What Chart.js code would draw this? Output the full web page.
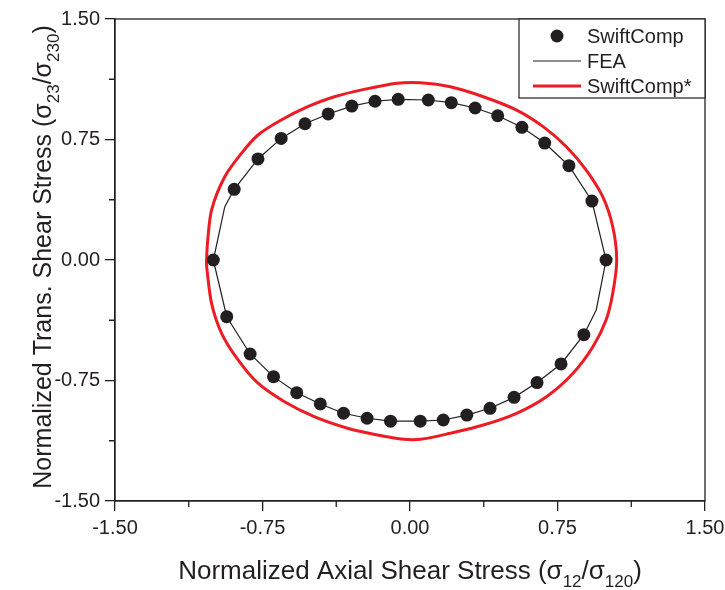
<!DOCTYPE html>
<html>
<head>
<meta charset="utf-8">
<script src="https://cdn.jsdelivr.net/npm/chart.js@4.4.1/dist/chart.umd.min.js"></script>
<style>
html,body{margin:0;padding:0;background:#fff;}
#wrap{width:725px;height:590px;}
</style>
</head>
<body>
<div id="wrap"><canvas id="myChart" width="725" height="590"></canvas></div>
<script>
// SwiftComp (points)
const swiftX = [-1.000,-0.894,-0.773,-0.655,-0.534,-0.416,-0.296,-0.178,-0.060,0.093,0.210,0.331,0.446,0.569,0.685,0.808,0.925,0.997,
                0.884,0.768,0.646,0.529,0.407,0.289,0.169,0.052,-0.099,-0.218,-0.338,-0.456,-0.576,-0.694,-0.813,-0.932];
const swiftY = [0.000,0.440,0.629,0.757,0.848,0.909,0.958,0.988,1.000,0.996,0.979,0.946,0.898,0.826,0.728,0.587,0.367,0.000,
                -0.465,-0.647,-0.763,-0.855,-0.923,-0.965,-0.996,-1.003,-1.003,-0.985,-0.954,-0.896,-0.826,-0.726,-0.585,-0.353];

// FEA (thin line)
const feaX = [-1.000,-0.942,-0.894,-0.773,-0.655,-0.534,-0.416,-0.296,-0.178,-0.060,0.093,0.210,0.331,0.446,0.569,0.685,0.808,0.925,0.997,0.947,
              0.884,0.768,0.646,0.529,0.407,0.289,0.169,0.052,-0.099,-0.218,-0.338,-0.456,-0.576,-0.694,-0.813,-0.932,-1.000];
const feaY = [0.000,0.330,0.440,0.629,0.757,0.848,0.909,0.958,0.988,1.000,0.996,0.979,0.946,0.898,0.826,0.728,0.587,0.367,0.000,-0.311,
              -0.465,-0.647,-0.763,-0.855,-0.923,-0.965,-0.996,-1.003,-1.003,-0.985,-0.954,-0.896,-0.826,-0.726,-0.585,-0.353,0.000];

// SwiftComp* (red line)
const starX = [-1.035,-1.030,-1.009,-0.942,-0.857,-0.773,-0.655,-0.520,-0.385,-0.234,-0.065,0.053,0.205,0.373,0.542,0.677,0.795,0.896,0.980,1.031,1.051,
               1.031,0.997,0.930,0.829,0.694,0.542,0.373,0.205,0.053,-0.031,-0.166,-0.318,-0.487,-0.638,-0.773,-0.874,-0.958,-1.009,-1.032,-1.035];
const starY = [-0.020,0.100,0.311,0.518,0.664,0.778,0.871,0.954,1.016,1.062,1.100,1.103,1.078,1.016,0.933,0.830,0.705,0.560,0.394,0.207,0.000,
               -0.207,-0.373,-0.540,-0.705,-0.851,-0.954,-1.027,-1.078,-1.116,-1.116,-1.089,-1.047,-0.975,-0.882,-0.767,-0.622,-0.456,-0.270,-0.062,-0.020];

const tickValues = [-1.5,-0.75,0,0.75,1.5];
const minorTicks = [-1.125,-0.375,0.375,1.125];
const seriesNames = ['SwiftComp','FEA','SwiftComp*'];

const ink = '#231f20';
const red = '#ed1c24';
const fam = "'Liberation Sans', Arial, Helvetica, sans-serif";
Chart.defaults.font.family = fam;
Chart.defaults.color = ink;

function pts(xs, ys){ return xs.map((x,i)=>({x:x,y:ys[i]})); }

// titres avec indices
const xTitle = [{t:'Normalized Axial Shear Stress (\u03c3'},{t:'12',sub:true},{t:'/\u03c3'},{t:'120',sub:true},{t:')'}];
const yTitle = [{t:'Normalized Trans. Shear Stress (\u03c3'},{t:'23',sub:true},{t:'/\u03c3'},{t:'230',sub:true},{t:')'}];

function drawRich(ctx, parts, cx, by, size){
  const big = size + 'px ' + fam, small = Math.round(size*0.66) + 'px ' + fam;
  let w = 0;
  parts.forEach(p => { ctx.font = p.sub ? small : big; w += ctx.measureText(p.t).width; });
  let x = cx - w/2;
  ctx.textAlign = 'left'; ctx.textBaseline = 'alphabetic';
  parts.forEach(p => {
    ctx.font = p.sub ? small : big;
    ctx.fillText(p.t, x, p.sub ? by + size*0.3 : by);
    x += ctx.measureText(p.t).width;
  });
}

const extras = {
  id: 'extras',
  afterDraw(chart){
    const ctx = chart.ctx, a = chart.chartArea;
    const xs = chart.scales.x, ys = chart.scales.y;
    ctx.save();
    ctx.strokeStyle = ink; ctx.fillStyle = ink; ctx.lineWidth = 1.3;
    ctx.strokeRect(a.left, a.top, a.right - a.left, a.bottom - a.top);
    ctx.beginPath();
    minorTicks.forEach(v => {
      const px = xs.getPixelForValue(v);
      ctx.moveTo(px, a.bottom); ctx.lineTo(px, a.bottom + 6);
      const py = ys.getPixelForValue(v);
      ctx.moveTo(a.left - 6, py); ctx.lineTo(a.left, py);
    });
    ctx.stroke();

    // axis titles
    drawRich(ctx, xTitle, (a.left + a.right)/2, 579, 26);
    ctx.save();
    ctx.translate(51, 257);
    ctx.rotate(-Math.PI/2);
    drawRich(ctx, yTitle, 0, 0, 25);
    ctx.restore();

    // legend
    const lx = 519, ly = a.top, lw = a.right - lx, lh = 79;
    ctx.fillStyle = '#fff';
    ctx.fillRect(lx, ly, lw, lh);
    ctx.lineWidth = 1.2; ctx.strokeStyle = ink;
    ctx.strokeRect(lx, ly, lw, lh);
    chart.data.datasets.forEach((ds, i) => {
      const cy = ly + 17 + i*25;
      if (ds.showLine === false) {
        ctx.fillStyle = ds.backgroundColor;
        ctx.beginPath(); ctx.arc(557, cy, 6.5, 0, Math.PI*2); ctx.fill();
      } else {
        ctx.strokeStyle = ds.borderColor; ctx.lineWidth = ds.borderWidth;
        ctx.beginPath(); ctx.moveTo(533, cy); ctx.lineTo(581, cy); ctx.stroke();
      }
      ctx.fillStyle = ink;
      ctx.font = '20px ' + fam;
      ctx.textAlign = 'left'; ctx.textBaseline = 'middle';
      ctx.fillText(ds.label, 587, cy + 1);
    });
    ctx.restore();
  }
};

function axis(pad){
  return {
    type: 'linear', min: -1.5, max: 1.5,
    afterBuildTicks: s => { s.ticks = tickValues.map(v => ({value:v})); },
    ticks: { callback: v => (Math.abs(v) < 1e-9 ? 0 : v).toFixed(2), font: {size:20}, color: ink, padding: pad },
    grid: { drawOnChartArea: false, drawTicks: true, tickLength: 10, color: ink, lineWidth: 1.3 },
    border: { display: true, color: ink, width: 1.3 },
    title: { display: false }
  };
}

new Chart(document.getElementById('myChart'), {
  type: 'scatter',
  data: {
    datasets: [
      { label: seriesNames[0], data: pts(swiftX, swiftY), showLine: false,
        pointRadius: 6.5, pointBackgroundColor: ink, backgroundColor: ink, pointBorderWidth: 0, borderColor: ink, order: 0 },
      { label: seriesNames[1], data: pts(feaX, feaY), showLine: true, pointRadius: 0,
        borderColor: ink, borderWidth: 1.2, tension: 0, order: 1 },
      { label: seriesNames[2], data: pts(starX, starY), showLine: true, pointRadius: 0,
        borderColor: red, borderWidth: 3, tension: 0.3, order: 2 }
    ]
  },
  options: {
    responsive: false,
    animation: false,
    devicePixelRatio: 1,
    layout: { padding: { top: 19, right: 20, left: 0, bottom: 0 } },
    scales: {
      x: Object.assign(axis(5), { position: 'bottom', afterFit: s => { s.height = 89; s.paddingLeft = 0; s.paddingRight = 0; } }),
      y: Object.assign(axis(5), { position: 'left', afterFit: s => { s.width = 115; s.paddingTop = 0; s.paddingBottom = 0; } })
    },
    plugins: { legend: { display: false }, tooltip: { enabled: false } }
  },
  plugins: [extras]
});
</script>
</body>
</html>
